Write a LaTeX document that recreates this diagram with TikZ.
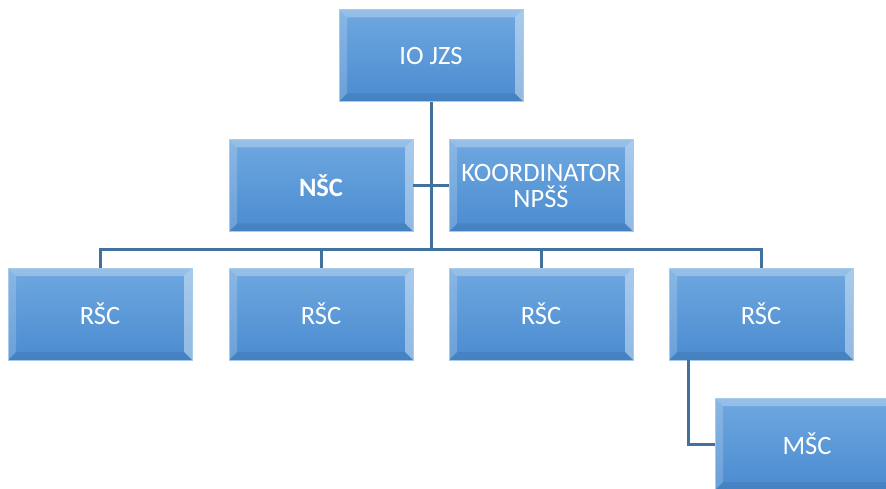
\documentclass[tikz,border=0pt]{standalone}
\usepackage{fontspec}
\setmainfont{Carlito}
\definecolor{boxtop}{HTML}{6FA8E0}
\definecolor{boxbot}{HTML}{4A8BD0}
\definecolor{boxedge}{HTML}{A9CBEB}
\definecolor{linec}{HTML}{41719C}
\tikzset{
  bx/.style={minimum width=184pt, minimum height=92pt, inner sep=0pt,
    top color=boxtop, bottom color=boxbot, draw=boxedge, line width=0.8pt,
    text=white, font=\fontsize{26.5}{29}\selectfont, align=center,
    path picture={
      \fill[white,opacity=0.28] (path picture bounding box.north west) -- (path picture bounding box.north east)
        -- ([shift={(-8pt,-8pt)}]path picture bounding box.north east) -- ([shift={(8pt,-8pt)}]path picture bounding box.north west) -- cycle;
      \fill[white,opacity=0.18] (path picture bounding box.north west) -- (path picture bounding box.south west)
        -- ([shift={(8pt,8pt)}]path picture bounding box.south west) -- ([shift={(8pt,-8pt)}]path picture bounding box.north west) -- cycle;
      \fill[white,opacity=0.40] (path picture bounding box.north east) -- (path picture bounding box.south east)
        -- ([shift={(-8pt,8pt)}]path picture bounding box.south east) -- ([shift={(-8pt,-8pt)}]path picture bounding box.north east) -- cycle;
      \fill[black,opacity=0.07] (path picture bounding box.south west) -- (path picture bounding box.south east)
        -- ([shift={(-8pt,8pt)}]path picture bounding box.south east) -- ([shift={(8pt,8pt)}]path picture bounding box.south west) -- cycle;
    }},
  conn/.style={draw=linec, line width=3pt}
}
\begin{document}
\begin{tikzpicture}
\useasboundingbox (0pt,0pt) rectangle (886pt,-489pt);
\clip (0pt,0pt) rectangle (886pt,-489pt);
\coordinate (hb) at (431pt,-249pt);
\node[bx] (io) at (431pt,-55.5pt) {IO JZS};
\node[bx] (nsc) at (321pt,-185.5pt) {\textbf{NŠC}};
\node[bx] (ko) at (541pt,-185.5pt) {KOORDINATOR\\[-3pt]NPŠŠ};
\node[bx] (r1) at (100pt,-314pt) {RŠC};
\node[bx] (r2) at (321pt,-314pt) {RŠC};
\node[bx] (r3) at (541pt,-314pt) {RŠC};
\node[bx] (r4) at (761pt,-314pt) {RŠC};
\node[bx] (m) at (807pt,-444pt) {MŠC};
\draw[conn] (io.south) -- (hb);
\draw[conn] (nsc.east) -- (ko.west);
\draw[conn] (r1.north) |- (hb);
\draw[conn] (r2.north) |- (hb);
\draw[conn] (r3.north) |- (hb);
\draw[conn] (r4.north) |- (hb);
\coordinate (r4b) at ([xshift=20pt]r4.south west);
\draw[conn] (r4b) |- (m.west);
\end{tikzpicture}
\end{document}
